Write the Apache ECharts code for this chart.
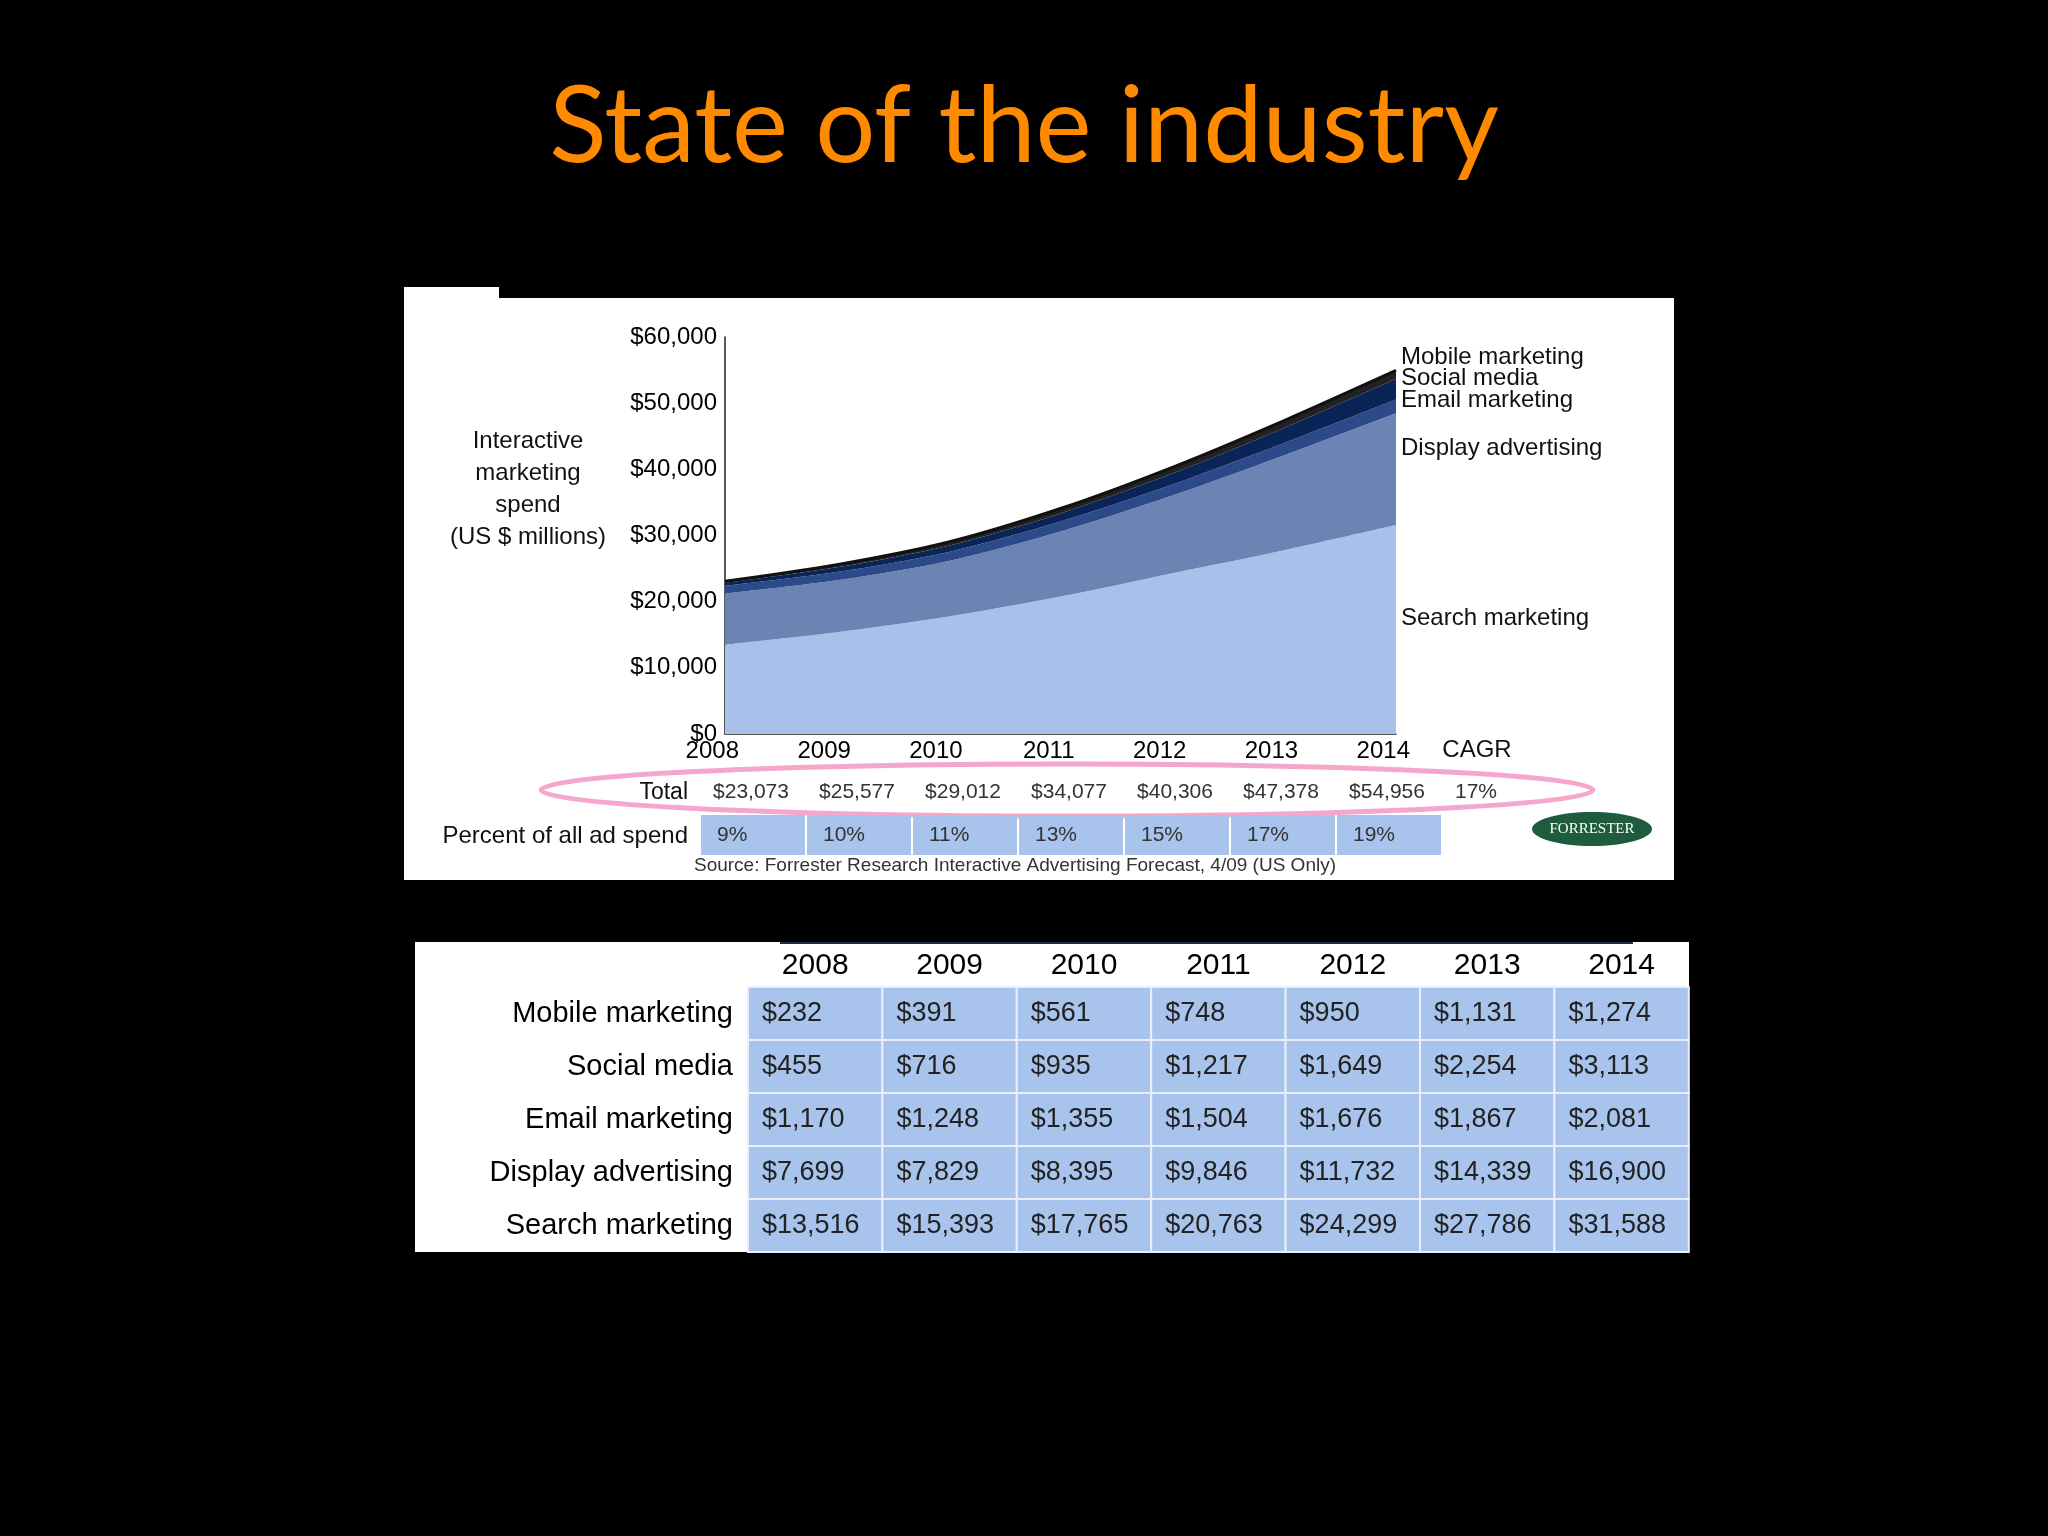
<!DOCTYPE html>
<html><head><meta charset="utf-8">
<script src="https://cdn.jsdelivr.net/npm/echarts@6/dist/echarts.min.js"></script>
<style>html,body{margin:0;background:#000}#c{width:2048px;height:1536px}</style>
</head><body><div id="c"></div>
<script>
const years = ['2008','2009','2010','2011','2012','2013','2014'];
const mobile = [232,391,561,748,950,1131,1274];
const social = [455,716,935,1217,1649,2254,3113];
const email = [1170,1248,1355,1504,1676,1867,2081];
const display = [7699,7829,8395,9846,11732,14339,16900];
const search = [13516,15393,17765,20763,24299,27786,31588];
const totals = ['$23,073','$25,577','$29,012','$34,077','$40,306','$47,378','$54,956'];
const cagr = '17%';
const percents = ['9%','10%','11%','13%','15%','17%','19%'];
const yTicks = [0,10000,20000,30000,40000,50000,60000];
const rowNames = ['Mobile marketing','Social media','Email marketing','Display advertising','Search marketing'];
const rowData = [mobile, social, email, display, search];

const fmt = v => '$' + v.toLocaleString('en-US');
const F = 'Liberation Sans, Arial, sans-serif';
const g = [];
// panels
g.push({type:'rect',shape:{x:404,y:298,width:1270,height:582},style:{fill:'#fff'},z:-10});
g.push({type:'rect',shape:{x:404,y:287,width:95,height:12},style:{fill:'#fff'},z:-10});
g.push({type:'rect',shape:{x:415,y:942,width:1274,height:310},style:{fill:'#fff'},z:-10});
g.push({type:'line',shape:{x1:780,y1:943,x2:1633,y2:943},style:{stroke:'#1a2a50',lineWidth:2}});
// title
g.push({type:'text',x:1024,y:128,style:{text:'State of the industry',fill:'#ff8a00',font:'106px Lato, "Open Sans", sans-serif',textAlign:'center',textVerticalAlign:'middle'}});
// y title
['Interactive','marketing','spend','(US $ millions)'].forEach((t,i)=>g.push({type:'text',x:528,y:441+i*32,style:{text:t,fill:'#111',font:'24px '+F,textAlign:'center',textVerticalAlign:'middle'}}));
// side labels
[['Mobile marketing',357],['Social media',378],['Email marketing',400],['Display advertising',448],['Search marketing',618]].forEach(([t,y])=>g.push({type:'text',x:1401,y:y,style:{text:t,fill:'#111',font:'24px '+F,textVerticalAlign:'middle'}}));
g.push({type:'text',x:1477,y:750,style:{text:'CAGR',fill:'#111',font:'24px '+F,textAlign:'center',textVerticalAlign:'middle'}});
// total row
g.push({type:'text',x:688,y:793,style:{text:'Total',fill:'#111',font:'23px '+F,textAlign:'right',textVerticalAlign:'middle'}});
totals.forEach((t,i)=>g.push({type:'text',x:751+i*106,y:792,style:{text:t,fill:'#333',font:'21px '+F,textAlign:'center',textVerticalAlign:'middle'}}));
g.push({type:'text',x:1476,y:792,style:{text:cagr,fill:'#333',font:'21px '+F,textAlign:'center',textVerticalAlign:'middle'}});
g.push({type:'ellipse',shape:{cx:1067,cy:790,rx:526,ry:26},style:{fill:'none',stroke:'#f4a6cc',lineWidth:5}});
// percent row
g.push({type:'text',x:688,y:836,style:{text:'Percent of all ad spend',fill:'#111',font:'24px '+F,textAlign:'right',textVerticalAlign:'middle'}});
percents.forEach((t,i)=>{
  g.push({type:'rect',shape:{x:701+i*106,y:815,width:104,height:40},style:{fill:'#a9c4ec'}});
  g.push({type:'text',x:717+i*106,y:835,style:{text:t,fill:'#333',font:'21px '+F,textVerticalAlign:'middle'}});
});
g.push({type:'text',x:1015,y:866,style:{text:'Source: Forrester Research Interactive Advertising Forecast, 4/09 (US Only)',fill:'#333',font:'19px '+F,textAlign:'center',textVerticalAlign:'middle'}});
g.push({type:'ellipse',shape:{cx:1592,cy:829,rx:60,ry:17},style:{fill:'#1d5c3c'}});
g.push({type:'text',x:1592,y:829,style:{text:'FORRESTER',fill:'#fff',font:'15px "Liberation Serif", serif',textAlign:'center',textVerticalAlign:'middle'}});
// table
const cx0 = 748, cw = 134.4, ry0 = 987, rh = 53;
years.forEach((y,i)=>g.push({type:'text',x:cx0+cw*i+cw/2,y:966,style:{text:y,fill:'#000',font:'30px '+F,textAlign:'center',textVerticalAlign:'middle'}}));
rowNames.forEach((n,r)=>{
  g.push({type:'text',x:733,y:ry0+rh*r+rh/2,style:{text:n,fill:'#000',font:'29px '+F,textAlign:'right',textVerticalAlign:'middle'}});
  rowData[r].forEach((v,i)=>{
    g.push({type:'rect',shape:{x:cx0+cw*i,y:ry0+rh*r,width:cw,height:rh},style:{fill:'#a9c4ec',stroke:'#e8eefa',lineWidth:2}});
    g.push({type:'text',x:cx0+cw*i+14,y:ry0+rh*r+rh/2,style:{text:fmt(v),fill:'#222',font:'27px '+F,textVerticalAlign:'middle'}});
  });
});

const mk = (name,data,color,top) => ({name,type:'line',stack:'s',data,smooth:0.3,symbol:'none',
  areaStyle:{color,opacity:1},lineStyle:top?{color:'#111',width:3}:{width:0},z:2});
const chart = echarts.init(document.getElementById('c'));
chart.setOption({
  backgroundColor:'#000',animation:false,
  grid:{left:725,right:652,top:337,bottom:802},
  xAxis:{type:'category',data:years,boundaryGap:false,axisLine:{lineStyle:{color:'#222',width:1.5}},axisTick:{show:false},
    axisLabel:{color:'#000',fontSize:24,fontFamily:F,margin:5,align:'right',padding:[0,-14,0,0],
      formatter:(v,i)=>v}},
  yAxis:{type:'value',min:0,max:60000,interval:10000,splitLine:{show:false},axisLine:{show:true,lineStyle:{color:'#222',width:1.5}},axisTick:{show:false},
    axisLabel:{color:'#000',fontSize:24,fontFamily:F,margin:8,padding:[0,0,46,0],formatter:v=>fmt(v)}},
  series:[mk('Search marketing',search,'#a8c0ea'),mk('Display advertising',display,'#6b84b4'),
    mk('Email marketing',email,'#2c4a8a'),mk('Social media',social,'#0b2458'),mk('Mobile marketing',mobile,'#222',true)],
  graphic:g
});
</script></body></html>
